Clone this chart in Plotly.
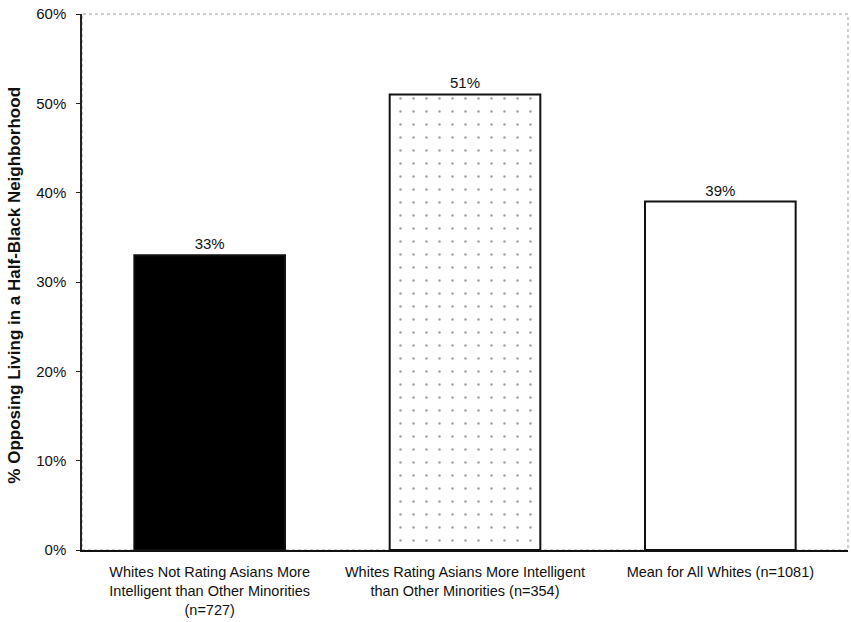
import plotly.graph_objects as go

categories = [
    "Whites Not Rating Asians More<br>Intelligent than Other Minorities<br>(n=727)",
    "Whites Rating Asians More Intelligent<br>than Other Minorities (n=354)",
    "Mean for All Whites (n=1081)",
]
values = [33, 51, 39]
bar_labels = ["33%", "51%", "39%"]
y_ticks = [0, 10, 20, 30, 40, 50, 60]
y_tick_text = ["0%", "10%", "20%", "30%", "40%", "50%", "60%"]
y_title = "% Opposing Living in a Half-Black Neighborhood"

fill_colors = ["#000000", "#ffffff", "#ffffff"]
patterns = ["", ".", ""]

FONT = "Liberation Sans, Arial, sans-serif"

fig = go.Figure(
    go.Bar(
        x=categories,
        y=values,
        text=bar_labels,
        textposition="outside",
        cliponaxis=False,
        textfont=dict(family=FONT, size=15, color="#111"),
        marker=dict(
            color=fill_colors,
            line=dict(color="#111", width=2),
            pattern=dict(shape=patterns, fgcolor="#ececec", size=13, solidity=0.03),
        ),
        width=0.59,
    )
)

# light dotted frame around the plotting area
fig.add_shape(
    type="rect", xref="paper", yref="paper", x0=0, x1=1, y0=0, y1=1,
    line=dict(color="#9a9a9a", width=1, dash="dot"), layer="below",
)

# vertical axis title
fig.add_annotation(
    text=f"<b>{y_title}</b>",
    xref="paper", yref="paper",
    x=-0.0875, y=0.495,
    textangle=-90,
    showarrow=False,
    xanchor="center", yanchor="middle",
    font=dict(family=FONT, size=17, color="#111"),
)

fig.update_layout(
    width=851,
    height=622,
    margin=dict(l=82, r=3, t=14, b=72),
    paper_bgcolor="white",
    plot_bgcolor="white",
    showlegend=False,
    font=dict(family=FONT, size=14, color="#111"),
    xaxis=dict(
        showgrid=False,
        showline=True,
        linecolor="#111",
        linewidth=1.5,
        ticks="",
        tickfont=dict(size=14.5),
        ticklabelstandoff=8,
    ),
    yaxis=dict(
        range=[0, 60],
        tickvals=y_ticks,
        ticktext=y_tick_text,
        showgrid=False,
        zeroline=False,
        showline=True,
        linecolor="#222",
        linewidth=1.5,
        ticks="outside",
        ticklen=4,
        tickcolor="#222",
        tickfont=dict(size=15),
        ticklabelstandoff=7,
    ),
)

fig.write_html("out.html")
